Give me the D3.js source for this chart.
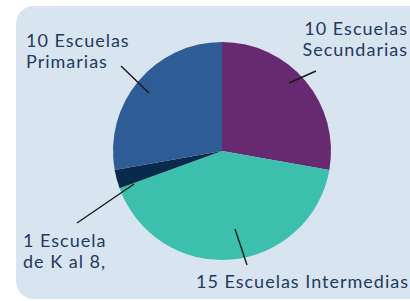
<!DOCTYPE html>
<html><head><meta charset="utf-8">
<script src="https://cdn.jsdelivr.net/npm/d3@7"></script>
<style>html,body{margin:0;padding:0;background:#fff;}svg{display:block;}</style>
</head><body>
<script>
const categories = ["Escuelas Secundarias","Escuelas Intermedias","Escuela de K al 8","Escuelas Primarias"];
const values = [10, 15, 1, 10];
const labelLines = [["10 Escuelas","Secundarias"],["15 Escuelas Intermedias"],["1 Escuela","de K al 8,"],["10 Escuelas","Primarias"]];
const colors = ["#672a70","#3dbfad","#0a2a4b","#2e5c96"];

const W = 410, H = 301;
const svg = d3.select("body").append("svg").attr("width", W).attr("height", H);
svg.append("rect").attr("x",16).attr("y",6).attr("width",420).attr("height",293)
  .attr("rx",18).attr("fill","#d9e4f1");

const cx = 222, cy = 151, r = 109;
const pie = d3.pie().sort(null).value(d => d)(values);
const arc = d3.arc().innerRadius(0).outerRadius(r);
const g = svg.append("g").attr("transform",`translate(${cx},${cy})`);
g.selectAll("path").data(pie).enter().append("path")
  .attr("d", arc).attr("fill",(d,i)=>colors[i]);

const labelCfg = [
  {x:408, y:35, anchor:"end", line:[[289,83],[316,71]]},
  {x:409, y:288, anchor:"end", line:[[235,229],[247,265]]},
  {x:23, y:247, anchor:"start", line:[[134,184],[77,223]]},
  {x:26, y:47, anchor:"start", line:[[149,93],[121,66]]}
];
labelCfg.forEach((c,i)=>{
  svg.append("line").attr("x1",c.line[0][0]).attr("y1",c.line[0][1])
    .attr("x2",c.line[1][0]).attr("y2",c.line[1][1])
    .attr("stroke","#1a1a1a").attr("stroke-width",1.4);
  const t = svg.append("text").attr("x",c.x).attr("y",c.y).attr("text-anchor",c.anchor)
    .attr("font-family","Lato, 'Open Sans', sans-serif").attr("font-size",18)
    .attr("letter-spacing",1).attr("fill","#1e3b5c");
  labelLines[i].forEach((s,j)=>{
    t.append("tspan").attr("x",c.x).attr("dy", j===0?0:21).text(s);
  });
});
</script>
</body></html>
